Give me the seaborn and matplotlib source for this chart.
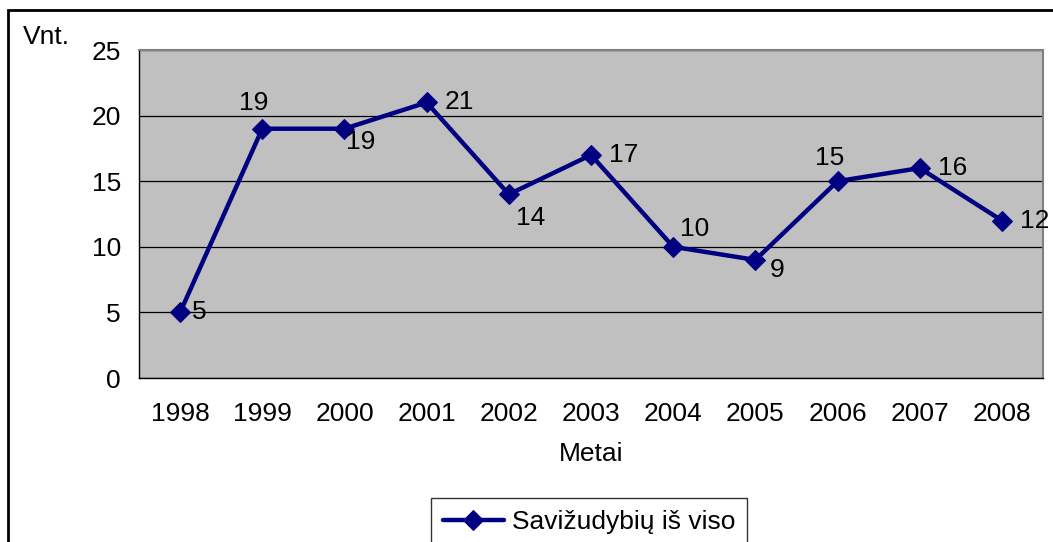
import pandas as pd
import numpy as np
import matplotlib.pyplot as plt
import seaborn as sns
from matplotlib.patches import Rectangle

# Data
years = ['1998', '1999', '2000', '2001', '2002', '2003', '2004', '2005', '2006', '2007', '2008']
suicides = [5, 19, 19, 21, 14, 17, 10, 9, 15, 16, 12]
series_name = 'Savižudybių iš viso'
# label offsets in pixels (dx, dy, ha) for each data label
label_offsets = [(12, 0, 'left'), (-9, 26, 'center'), (2, -13, 'left'), (18, 0, 'left'),
                 (7, -24, 'left'), (18, 0, 'left'), (7, 18, 'left'), (14, -10, 'left'),
                 (-8, 23, 'center'), (18, 0, 'left'), (18, 0, 'left')]

df = pd.DataFrame({'Metai': years, 'Vnt': suicides, 'series': series_name})
df['x'] = np.arange(len(years))

sns.set_style('white', {'text.color': 'black', 'axes.labelcolor': 'black',
                        'xtick.color': 'black', 'ytick.color': 'black'})
plt.rcParams['font.family'] = ['Liberation Sans', 'DejaVu Sans']
FS = 19

W, H = 1053, 542
fig = plt.figure(figsize=(W / 100, H / 100), dpi=100)
ax = fig.add_axes([139 / W, 1 - 378 / H, (1043 - 139) / W, (378 - 50) / H])
ax.set_facecolor('#C0C0C0')

sns.lineplot(data=df, x='x', y='Vnt', hue='series', palette=['#000080'], marker='D',
             markersize=10, linewidth=3.2, markeredgecolor='#000080', ax=ax, legend=True)

for xi, yi, (dx, dy, ha) in zip(df['x'], df['Vnt'], label_offsets):
    ax.annotate(str(yi), (xi, yi), xytext=(dx, dy), textcoords='offset pixels',
                ha=ha, va='center', fontsize=FS, color='black', annotation_clip=False)

ax.set_xlim(-0.5, len(years) - 0.5)
ax.set_ylim(0, 25)
ax.set_yticks([0, 5, 10, 15, 20, 25])
ax.set_xticks(df['x'])
ax.set_xticklabels(years)
ax.set_xticks(np.arange(-0.5, len(years), 1), minor=True)
ax.tick_params(axis='x', which='major', length=0, labelsize=FS, pad=17, labelcolor='black')
ax.tick_params(axis='x', which='minor', length=7, width=1, color='black', direction='out')
ax.tick_params(axis='y', length=7, width=1, color='black', direction='out', labelsize=FS,
               pad=6, labelcolor='black')
ax.yaxis.grid(True, color='black', linewidth=0.9)
ax.xaxis.grid(False)

for side in ['top', 'right']:
    ax.spines[side].set_color('#808080')
    ax.spines[side].set_linewidth(1.5)
for side in ['left', 'bottom']:
    ax.spines[side].set_color('black')
    ax.spines[side].set_linewidth(1)

ax.set_xlabel('Metai', fontsize=FS, labelpad=12, color='black')
ax.set_ylabel('')
fig.text(23 / W, 1 - 37 / H, 'Vnt.', fontsize=FS, ha='left', va='center', color='black')

handles, labels = ax.get_legend_handles_labels()
ax.get_legend().remove()
leg = fig.legend(handles, labels, loc='upper center', bbox_to_anchor=(589 / W, 1 - 498 / H),
                 fontsize=FS, frameon=True, fancybox=False, edgecolor='black',
                 handlelength=2.3, handletextpad=0.3, borderpad=0.45, borderaxespad=0,
                 labelcolor='black')
leg.get_frame().set_linewidth(1)

# chart area border
fig.patches.append(Rectangle((8 / W, -0.05), 1.1, 1 - 10 / H + 0.05, transform=fig.transFigure,
                             fill=False, edgecolor='black', linewidth=2))

fig.savefig('out.png', dpi=100)
